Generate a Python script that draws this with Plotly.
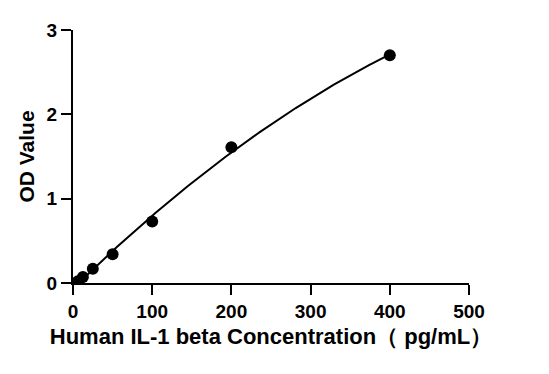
import numpy as np
import plotly.graph_objects as go

conc = [6.25, 12.5, 25, 50, 100, 200, 400]
od = [0.02, 0.07, 0.17, 0.34, 0.73, 1.61, 2.70]
x_ticks = [0, 100, 200, 300, 400, 500]
y_ticks = [0, 1, 2, 3]
x_title = "Human IL-1 beta Concentration\uff08 pg/mL\uff09"
y_title = "OD Value"

# fitted standard curve (quadratic regression of the standards)
coef = np.polyfit(conc, od, 2)
fx = np.linspace(min(conc), max(conc), 200)
fy = np.polyval(coef, fx)

fig = go.Figure()
fig.add_trace(go.Scatter(x=fx, y=fy, mode="lines",
                         line=dict(color="black", width=2), hoverinfo="skip"))
fig.add_trace(go.Scatter(x=conc, y=od, mode="markers",
                         marker=dict(color="black", size=12)))

fam = "Liberation Sans, Arial, sans-serif"
fig.update_layout(
    width=549, height=374,
    margin=dict(l=65, r=88, t=12, b=99),
    plot_bgcolor="white", paper_bgcolor="white",
    showlegend=False,
    font=dict(family=fam, color="black", size=19, weight="bold"),
    xaxis=dict(range=[0, 500], tickvals=x_ticks, showgrid=False, zeroline=False,
               showline=True, linecolor="black", linewidth=2,
               ticks="outside", ticklen=10, tickwidth=2, tickcolor="black",
               tickfont=dict(family=fam, size=19, weight="bold", color="black"),
               title=dict(text=x_title, font=dict(family=fam, size=22, weight="bold", color="black"), standoff=8)),
    yaxis=dict(range=[0, 3], tickvals=y_ticks, showgrid=False, zeroline=False,
               showline=True, linecolor="black", linewidth=2,
               ticks="outside", ticklen=10, tickwidth=2, tickcolor="black",
               tickfont=dict(family=fam, size=19, weight="bold", color="black"),
               title=dict(text=y_title, font=dict(family=fam, size=21, weight="bold", color="black"), standoff=6)),
)
fig.write_html("out.html")
